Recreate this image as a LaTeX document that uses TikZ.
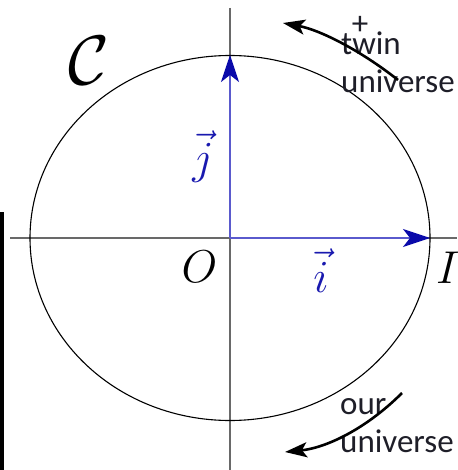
\RequirePackage{fix-cm}
\documentclass[tikz,border=0pt]{standalone}
\usepackage{fontspec}
\newfontfamily\labelfont{Carlito}
\usetikzlibrary{arrows.meta}
\definecolor{cAxis}{RGB}{105,105,105}
\definecolor{cVec}{RGB}{90,90,205}
\definecolor{cVecHead}{RGB}{10,10,170}
\definecolor{tVec}{RGB}{25,25,175}
\definecolor{tDark}{RGB}{30,30,40}

\begin{document}
\begin{tikzpicture}[
    x=1pt, y=-1pt,
    axis/.style={draw=cAxis, line width=2pt},
    orbit/.style={draw=black, line width=1.1pt},
    vec/.style={draw=cVec, line width=1.4pt,
        -{Stealth[length=27pt, width=18pt, inset=7pt, color=cVecHead]}},
    flow/.style={draw=black, line width=2.6pt,
        -{Stealth[length=22pt, width=15pt, inset=5pt]}},
    mlabel/.style={inner sep=0pt, font=\fontsize{46}{46}\selectfont},
    uni/.style={inner sep=0pt, align=left, text=tDark,
        font=\labelfont\fontsize{33}{38}\selectfont}
]

\path[use as bounding box, fill=white] (0,0) rectangle (457,470);

% axes and the unit circle
\coordinate (O) at (230,238);
\coordinate (xl) at (10,238);
\coordinate (xr) at (457,238);
\coordinate (yt) at (230,8);
\coordinate (yb) at (230,470);
\draw[axis] (xl) -- (xr);
\draw[axis] (yt) -- (yb);
\draw[orbit] (O) ellipse [x radius=200pt, y radius=182.5pt];

% basis vectors
\coordinate (itip) at (430,238);
\coordinate (jtip) at (230,55);
\draw[vec] (O) -- (itip);
\draw[vec] (O) -- (jtip);

% labels
\node[mlabel, anchor=base] (olab) at (199.5,282) {$O$};
\node[mlabel, anchor=base, text=tVec] (ilab) at (321,292) {$\vec{i}$};
\node[mlabel, anchor=base, text=tVec] (jlab) at (203,174) {$\vec{j}$};
\node[mlabel, anchor=base west] (Ilab) at (436,283) {$I$};
\node[inner sep=0pt, font=\fontsize{70}{70}\selectfont] (clab) at (89,61) {$\mathcal{C}$};

% universes
\node[uni, anchor=base west] (twin) at (341,93) {twin\\universe};
\node[uni] (plus) at (360,25) {+};
\node[uni, anchor=base west] (our) at (340,452) {our\\universe};

\coordinate (ts) at (398,80);
\coordinate (te) at (283,23);
\draw[flow] (ts) .. controls (360,50) and (320,30) .. (te);
\coordinate (os) at (402,393);
\coordinate (oe) at (285,452);
\draw[flow] (os) .. controls (365,430) and (325,448) .. (oe);

% edge of the neighbouring panel
\fill[black] (0,212) rectangle (3.5,470);

\end{tikzpicture}
\end{document}
